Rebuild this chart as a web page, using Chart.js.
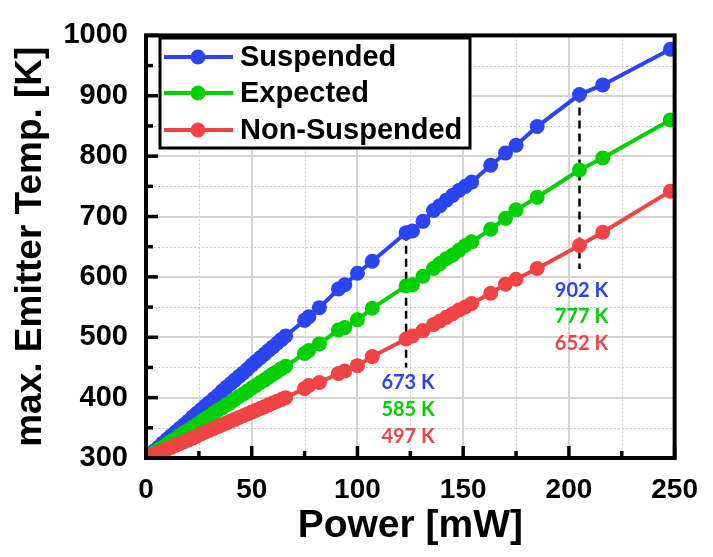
<!DOCTYPE html>
<html><head><meta charset="utf-8">
<script src="https://cdn.jsdelivr.net/npm/chart.js@4/dist/chart.umd.min.js"></script>
<style>html,body{margin:0;padding:0;background:#fff;}#wrap{width:713px;height:557px;}</style>
</head><body><div id="wrap"><canvas id="c" width="713" height="557"></canvas></div>
<script>
// ---- data ----
const power = [0,2,4,6,8,10,12,14,16,18,20,22,24,26,28,30,32,34,36,38,40,42,44,46,48,50,52,54,56,58,60,62,64,66,
  75,77,82,91,94,100,107,123,126,131,136,139,142,145,148,151,154,163,170,175,185,205,216,248];
const suspended = [300,306,312,318,325,331,337,343,349,355,361,368,374,380,386,392,398,404,411,417,423,429,435,441,447,454,460,466,472,478,484,490,496,502,
  528,534,549,580,587,606,626,673,676,692,710,718,727,735,743,750,757,785,805,818,849,902,918,977];
const expected = [300,305,309,314,318,323,328,332,337,342,346,351,355,360,365,369,374,379,383,388,392,397,402,406,411,416,420,425,429,434,439,443,448,452,
  473,478,489,512,516,529,548,585,587,601,614,622,630,636,644,652,658,679,697,711,732,777,797,860];
const nonSuspended = [300,303,306,309,312,315,318,321,324,327,330,333,336,340,343,346,349,352,355,358,361,364,367,370,373,376,379,382,385,388,391,394,397,400,
  415,420,425,440,444,453,468,497,502,511,521,527,533,539,545,550,556,573,588,596,614,652,674,742];

const seriesNames = ['Suspended', 'Expected', 'Non-Suspended'];
const seriesColors = ['#2a45f0', '#00d000', '#f04444'];
const xMajor = [0, 50, 100, 150, 200, 250];
const xMinor = [25, 75, 125, 175, 225];
const yMajor = [300, 400, 500, 600, 700, 800, 900, 1000];
const yMinor = [350, 450, 550, 650, 750, 850, 950];
// marked powers with the temperatures written beside them
const markPower = [123, 205];
const markTop = [673, 902];
const markBottom = [450, 613];
const markLabels = [['673 K', '585 K', '497 K'], ['902 K', '777 K', '652 K']];

const seriesValues = [suspended, expected, nonSuspended];
const FONT = "'Liberation Sans', Arial, sans-serif";

const datasets = seriesValues.map((vals, i) => ({
  label: seriesNames[i],
  data: power.map((p, k) => ({x: p, y: vals[k]})),
  showLine: true,
  borderColor: seriesColors[i],
  backgroundColor: seriesColors[i],
  borderWidth: 4,
  pointRadius: 7.5,
  pointHoverRadius: 7.5,
  pointBorderWidth: 0,
  pointBackgroundColor: seriesColors[i],
  order: 2 - i
}));

const custom = {
  id: 'custom',
  beforeDatasetsDraw(chart) {
    const {ctx, chartArea: a, scales: {x, y}} = chart;
    ctx.save();
    ctx.strokeStyle = '#c8c8c8'; ctx.lineWidth = 1; ctx.setLineDash([2, 2]);
    xMinor.forEach(v => { const p = Math.round(x.getPixelForValue(v)) + 0.5; ctx.beginPath(); ctx.moveTo(p, a.top); ctx.lineTo(p, a.bottom); ctx.stroke(); });
    yMinor.forEach(v => { const p = Math.round(y.getPixelForValue(v)) + 0.5; ctx.beginPath(); ctx.moveTo(a.left, p); ctx.lineTo(a.right, p); ctx.stroke(); });
    ctx.setLineDash([]); ctx.strokeStyle = '#d4d4d4'; ctx.lineWidth = 2;
    xMajor.forEach(v => { const p = Math.round(x.getPixelForValue(v)); ctx.beginPath(); ctx.moveTo(p, a.top); ctx.lineTo(p, a.bottom); ctx.stroke(); });
    yMajor.forEach(v => { const p = Math.round(y.getPixelForValue(v)); ctx.beginPath(); ctx.moveTo(a.left, p); ctx.lineTo(a.right, p); ctx.stroke(); });
    // dashed markers
    ctx.strokeStyle = '#000'; ctx.lineWidth = 2.5; ctx.setLineDash([8, 5]);
    markPower.forEach((p, i) => {
      const px = x.getPixelForValue(p);
      ctx.beginPath(); ctx.moveTo(px, y.getPixelForValue(markTop[i])); ctx.lineTo(px, y.getPixelForValue(markBottom[i])); ctx.stroke();
    });
    ctx.restore();
  },
  afterDatasetsDraw(chart) {
    const {ctx, chartArea: a, scales: {x, y}} = chart;
    ctx.save();
    // frame
    ctx.strokeStyle = '#000'; ctx.lineWidth = 4; ctx.setLineDash([]);
    ctx.strokeRect(a.left, a.top, a.right - a.left, a.bottom - a.top);
    // inward ticks
    ctx.lineWidth = 3.5;
    const tick = (x1, y1, x2, y2) => { ctx.beginPath(); ctx.moveTo(x1, y1); ctx.lineTo(x2, y2); ctx.stroke(); };
    xMajor.forEach(v => { const p = x.getPixelForValue(v); tick(p, a.bottom, p, a.bottom - 12); });
    xMinor.forEach(v => { const p = x.getPixelForValue(v); tick(p, a.bottom, p, a.bottom - 7); });
    yMajor.forEach(v => { const p = y.getPixelForValue(v); tick(a.left, p, a.left + 12, p); });
    yMinor.forEach(v => { const p = y.getPixelForValue(v); tick(a.left, p, a.left + 7, p); });
    // annotations
    ctx.font = "bold 20px Lato, 'Open Sans', sans-serif";
    ctx.textAlign = 'center'; ctx.textBaseline = 'middle';
    const annY = [[383, 410, 437], [291, 317, 344]];
    markLabels.forEach((labs, i) => {
      labs.forEach((t, j) => { ctx.fillStyle = seriesColors[j]; ctx.fillText(t, x.getPixelForValue(markPower[i]) + 2, annY[i][j]); });
    });
    // legend
    const L = {x: 160, y: 38, w: 310, h: 110};
    ctx.fillStyle = '#fff'; ctx.fillRect(L.x, L.y, L.w, L.h);
    ctx.strokeStyle = '#000'; ctx.lineWidth = 3; ctx.strokeRect(L.x, L.y, L.w, L.h);
    const rows = [57, 93, 130];
    ctx.font = 'bold 29px ' + FONT; ctx.textAlign = 'left'; ctx.textBaseline = 'middle';
    seriesNames.forEach((n, i) => {
      ctx.strokeStyle = seriesColors[i]; ctx.lineWidth = 4;
      tick(164, rows[i], 233, rows[i]);
      ctx.fillStyle = seriesColors[i];
      ctx.beginPath(); ctx.arc(198, rows[i], 7.5, 0, Math.PI * 2); ctx.fill();
      ctx.fillStyle = '#000'; ctx.fillText(n, 240, rows[i] + 1);
    });
    ctx.restore();
  }
};

new Chart(document.getElementById('c'), {
  type: 'scatter',
  data: {datasets},
  options: {
    responsive: false, animation: false, devicePixelRatio: 1,
    layout: {padding: {left: 0, right: 29, top: 24, bottom: 0}},
    plugins: {legend: {display: false}, tooltip: {enabled: false}},
    scales: {
      x: {
        type: 'linear', min: 0, max: 250,
        afterBuildTicks: s => { s.ticks = xMajor.map(v => ({value: v})); },
        grid: {display: false, drawTicks: false}, border: {display: false},
        ticks: {font: {family: FONT, size: 28, weight: 'bold'}, color: '#000', padding: 15, maxRotation: 0, autoSkip: false, callback: v => String(v)},
        title: {display: true, text: 'Power [mW]', color: '#000', font: {family: FONT, size: 39, weight: 'bold'}, padding: {top: 0, bottom: 7}},
        afterFit: s => { s.height = 99; }
      },
      y: {
        type: 'linear', min: 300, max: 1000,
        afterBuildTicks: s => { s.ticks = yMajor.map(v => ({value: v})); },
        grid: {display: false, drawTicks: false}, border: {display: false},
        ticks: {font: {family: FONT, size: 29, weight: 'bold'}, color: '#000', padding: 18, autoSkip: false, callback: v => String(v)},
        title: {display: true, text: 'max. Emitter Temp. [K]', color: '#000', font: {family: FONT, size: 37, weight: 'bold'}, padding: {top: 9, bottom: 0}},
        afterFit: s => { s.width = 146; }
      }
    }
  },
  plugins: [custom]
});
</script></body></html>
